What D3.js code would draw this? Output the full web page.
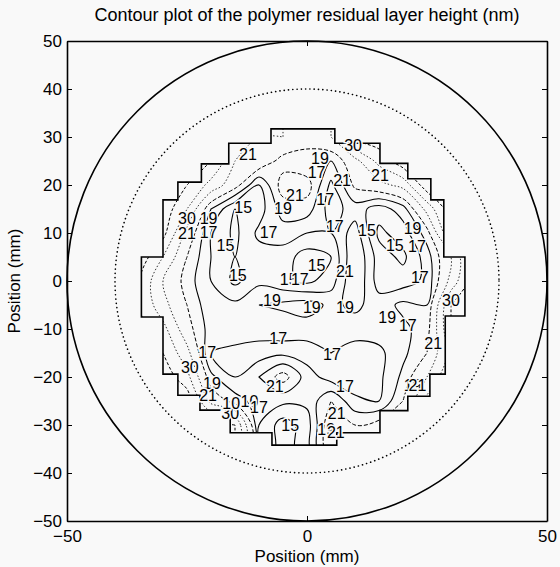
<!DOCTYPE html>
<html>
<head>
  <meta charset="utf-8">
  <script src="https://d3js.org/d3.v7.min.js"></script>
  <style>
    body { margin: 0; background: #f9f9f9; }
    text { font-family: "Liberation Sans", Arial, sans-serif; fill: #000; }
    .title { font-size: 18px; text-anchor: middle; }
    .axis-label { font-size: 17px; text-anchor: middle; }
    .axis text { font-size: 17px; font-family: "Liberation Sans", Arial, sans-serif; }
    .clabel { font-size: 16px; text-anchor: middle; dominant-baseline: central;
              stroke: #f9f9f9; stroke-width: 3px; paint-order: stroke; }
  </style>
</head>
<body>
  <svg width="560" height="567"></svg>
  <script>
    var svg = d3.select("svg"),
        margin = {top: 41, right: 13, bottom: 46, left: 67},
        width = 480,
        height = 480;

    var gridX = [-35, -30, -25, -20, -15, -10, -5, 0, 5, 10, 15, 20, 25, 30, 35];
    var gridY = [35, 30, 25, 20, 15, 10, 5, 0, -5, -10, -15, -20, -25, -30, -35];
    var heights = [
      [32, 32, 32, 30, 24, 24, 24, 23, 24, 31, 32, 32, 32, 32, 32],
      [32, 32, 32, 30, 24, 24, 24, 23, 24, 31, 32, 32, 32, 32, 32],
      [32, 32, 32, 30, 24, 23, 20, 19, 19, 23, 28, 32, 32, 32, 32],
      [32, 32, 30, 26, 22, 17, 22, 22, 16.5, 21.5, 23, 25, 32, 32, 32],
      [32, 32, 27, 19, 15, 16, 20, 20, 16, 18, 16, 18, 25, 32, 32],
      [32, 31, 23, 17, 14.5, 17.5, 18, 17, 17, 20, 14.5, 16, 20, 30, 32],
      [32, 27, 21, 17, 15, 16, 16, 14, 15, 21, 16, 14.5, 18, 24, 32],
      [30, 24, 20, 17, 14.5, 16.5, 15.5, 14.5, 16, 21, 16, 16, 17.5, 25, 32],
      [30, 25, 21, 17.5, 17.5, 19, 19.5, 20, 18.5, 19.5, 18, 19.5, 19, 30, 33],
      [31, 28, 22, 18, 18, 18, 17.5, 18, 18.5, 18, 18, 18.5, 20, 30, 32],
      [32, 30, 25, 17, 16.5, 16, 16.5, 16, 17, 16, 16.5, 18.5, 21, 28, 32],
      [32, 32, 28, 19.5, 17, 19, 22, 18, 16, 15.5, 16.5, 19.5, 24, 30, 32],
      [32, 32, 32, 23, 20, 18, 17.5, 17.5, 21, 17.5, 17, 21, 28, 32, 32],
      [32, 32, 32, 32, 30, 17, 14, 16, 23, 21, 22, 26, 32, 32, 32],
      [32, 32, 32, 32, 30, 17, 14, 16, 23, 21, 22, 26, 32, 32, 32]
    ];
    var levels = [15, 17, 19, 21, 24, 27, 30];

    // outline of the measured area (mm)
    var outline = [
      [-7.5, 31.7], [5.8, 31.7], [5.8, 28.7], [15.2, 28.7], [15.2, 24.5], [21, 24.5],
      [21, 21.3], [25.8, 21.3], [25.8, 16.9], [28.5, 16.9], [28.5, 5], [32.9, 5],
      [32.9, -7.3], [28.8, -7.3], [28.8, -19.4], [25.6, -19.4], [25.6, -24], [21, -24],
      [21, -27], [15.2, -27], [15.2, -31.6], [6.2, -31.6], [6.2, -34.2], [-7.3, -34.2],
      [-7.3, -31.6], [-16, -31.6], [-16, -26.9], [-22.3, -26.9], [-22.3, -23.8],
      [-26.9, -23.8], [-26.9, -19.4], [-30, -19.4], [-30, -7.5], [-34.5, -7.5],
      [-34.5, 5], [-30, 5], [-30, 16.9], [-26.9, 16.9], [-26.9, 20.6], [-22, 20.6],
      [-22, 24.4], [-16.3, 24.4], [-16.3, 28.7], [-7.5, 28.7]
    ];

    // contour labels: value, x (mm), y (mm)
    var labelText = ["21", "30", "19", "17", "21", "21", "21", "17", "19", "15", "30", "19",
                     "21", "17", "15", "17", "17", "15", "15", "19", "17", "17", "30", "15",
                     "15", "15", "17", "21", "19", "19", "19", "19", "17", "21", "17", "17",
                     "17", "30", "21", "17", "19", "21", "19", "21", "30", "10", "10", "17",
                     "21", "19", "21", "15"];
    var labelX = [-12.3, 9.6, 2.7, 2, 7.3, 15.2, -2.5, 3.8, -5, -13.3, -25, -20.5,
                  -25, -20.5, -17, -8, 5.8, 12.5, 18.3, 22, 22.9, 23.5, 30, -14.4,
                  2, -3.8, -1.5, 7.9, -7.3, 1, 7.9, 16.7, 21, 26.3, -6, -20.8,
                  5.2, -24.4, -6.7, 7.9, -19.8, -20.6, 22, 23, -16, -15.8, -12, -10,
                  6.2, 4, 6, -3.5];
    var labelY = [26.3, 28.3, 25.6, 22.7, 21, 22, 17.9, 16.9, 15.2, 15.4, 13.1, 13.1,
                  10, 10.2, 7.5, 10.2, 11.3, 10.6, 7.5, 11, 7.1, 0.8, -4, 1.25,
                  3.3, 0.4, 0.4, 1.9, -4, -5.6, -5.6, -7.5, -9.2, -13, -11.9, -14.8,
                  -15.4, -18.1, -22, -22, -21.3, -23.8, -21.7, -21.7, -27.5, -25.5, -25, -26.3,
                  -27.5, -31, -31.6, -30];

    var x = d3.scaleLinear().domain([-50, 50]).range([margin.left, margin.left + width]);
    var y = d3.scaleLinear().domain([-50, 50]).range([margin.top + height, margin.top]);

    // wafer edge and exclusion ring
    svg.append("circle")
      .attr("cx", x(0)).attr("cy", y(0)).attr("r", x(50) - x(0))
      .attr("fill", "none").attr("stroke", "#000").attr("stroke-width", 1.6);
    svg.append("circle")
      .attr("cx", x(0)).attr("cy", y(0)).attr("r", x(40) - x(0))
      .attr("fill", "none").attr("stroke", "#000").attr("stroke-width", 1.6)
      .attr("stroke-dasharray", "0.1,4.2").attr("stroke-linecap", "round");

    var outlineLine = d3.line().x(d => x(d[0])).y(d => y(d[1]));

    svg.append("clipPath").attr("id", "area")
      .append("path").attr("d", outlineLine(outline) + "Z");

    // contours
    var nx = gridX.length, ny = gridY.length;
    var step = gridX[1] - gridX[0];
    var values = [].concat.apply([], heights);
    var contours = d3.contours().size([nx, ny]).thresholds(levels)(values);

    var ringLine = d3.line()
      .x(p => x(gridX[0] + (p[0] - 0.5) * step))
      .y(p => y(gridY[0] - (p[1] - 0.5) * step))
      .curve(d3.curveCatmullRomClosed.alpha(0.5));

    function contourPath(c) {
      var d = "";
      c.coordinates.forEach(function(poly) {
        poly.forEach(function(ring) {
          d += ringLine(ring.slice(0, -1));
        });
      });
      return d;
    }

    var dash = {15: null, 17: null, 19: null, 21: "4,2", 24: "1.5,2", 27: "1.5,2", 30: "3,2"};
    var weight = {15: 1.1, 17: 1.1, 19: 1.1, 21: 1, 24: 0.8, 27: 0.8, 30: 1};

    svg.append("g").attr("clip-path", "url(#area)")
      .selectAll("path")
      .data(contours)
      .enter().append("path")
        .attr("d", contourPath)
        .attr("fill", "none")
        .attr("stroke", "#000")
        .attr("stroke-width", d => weight[d.value])
        .attr("stroke-dasharray", d => dash[d.value]);

    svg.append("path")
      .attr("d", outlineLine(outline) + "Z")
      .attr("fill", "none").attr("stroke", "#000").attr("stroke-width", 1.6);

    svg.append("g").selectAll("text")
      .data(labelText)
      .enter().append("text")
        .attr("class", "clabel")
        .attr("x", (d, i) => x(labelX[i]))
        .attr("y", (d, i) => y(labelY[i]))
        .text(d => d);

    // axes box
    var yTicks = [-50, -40, -30, -20, -10, 0, 10, 20, 30, 40, 50];
    var xTicks = [-50, 0, 50];

    svg.append("g").attr("class", "axis")
      .attr("transform", "translate(" + margin.left + ",0)")
      .call(d3.axisLeft(y).tickValues(yTicks).tickSizeInner(-5).tickSizeOuter(0).tickPadding(5));
    svg.append("g").attr("class", "axis")
      .attr("transform", "translate(" + (margin.left + width) + ",0)")
      .call(d3.axisRight(y).tickValues(yTicks).tickSizeInner(-5).tickSizeOuter(0).tickFormat(""));
    svg.append("g").attr("class", "axis")
      .attr("transform", "translate(0," + (margin.top + height) + ")")
      .call(d3.axisBottom(x).tickValues(xTicks).tickSizeInner(-5).tickSizeOuter(0).tickPadding(9));
    svg.append("g").attr("class", "axis")
      .attr("transform", "translate(0," + margin.top + ")")
      .call(d3.axisTop(x).tickValues(xTicks).tickSizeInner(-5).tickSizeOuter(0).tickFormat(""));

    svg.selectAll(".axis .domain").attr("stroke-width", 1.6);

    svg.append("text").attr("class", "title")
      .attr("x", x(0)).attr("y", 21)
      .text("Contour plot of the polymer residual layer height (nm)");
    svg.append("text").attr("class", "axis-label")
      .attr("x", x(0)).attr("y", 562)
      .text("Position (mm)");
    svg.append("text").attr("class", "axis-label")
      .attr("transform", "translate(20," + y(0) + ") rotate(-90)")
      .text("Position (mm)");
  </script>
</body>
</html>
